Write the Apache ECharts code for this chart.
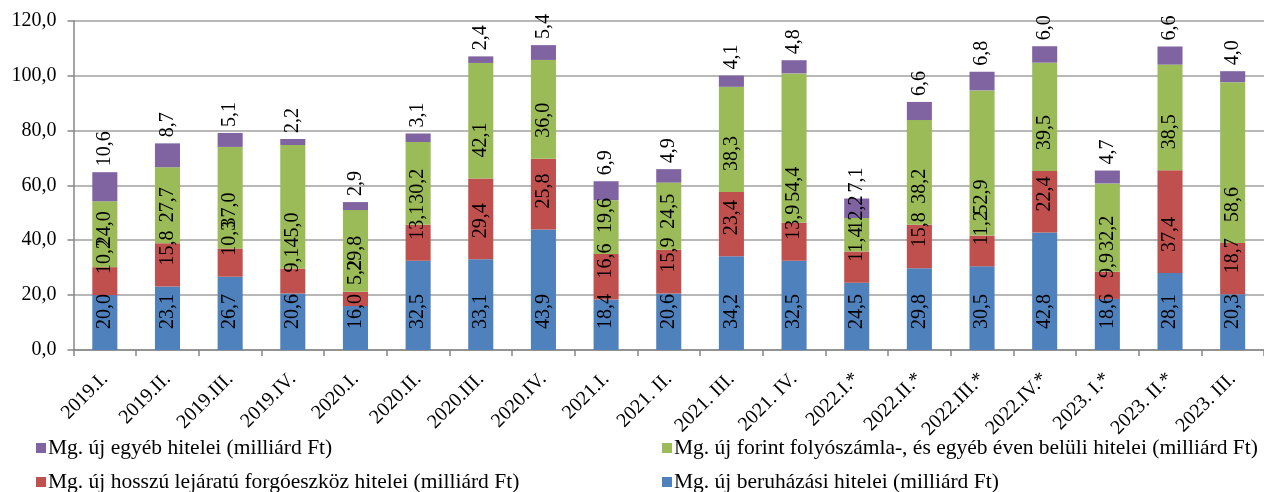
<!DOCTYPE html>
<html>
<head>
<meta charset="utf-8">
<script src="https://cdn.jsdelivr.net/npm/echarts@6/dist/echarts.min.js"></script>
<style>
html,body{margin:0;padding:0;background:#fff;}
#chart{width:1264px;height:492px;}
</style>
</head>
<body>
<div id="chart"></div>
<script>
const categories = ["2019.I.", "2019.II.", "2019.III.", "2019.IV.", "2020.I.", "2020.II.", "2020.III.", "2020.IV.", "2021.I.", "2021. II.", "2021. III.", "2021. IV.", "2022.I.*", "2022.II.*", "2022.III.*", "2022.IV.*", "2023. I.*", "2023. II.*", "2023. III."];
const beruhazasi = [20.0, 23.1, 26.7, 20.6, 16.0, 32.5, 33.1, 43.9, 18.4, 20.6, 34.2, 32.5, 24.5, 29.8, 30.5, 42.8, 18.6, 28.1, 20.3];
const hosszu = [10.2, 15.8, 10.3, 9.1, 5.2, 13.1, 29.4, 25.8, 16.6, 15.9, 23.4, 13.9, 11.4, 15.8, 11.2, 22.4, 9.9, 37.4, 18.7];
const forint = [24.0, 27.7, 37.0, 45.0, 29.8, 30.2, 42.1, 36.0, 19.6, 24.5, 38.3, 54.4, 12.2, 38.2, 52.9, 39.5, 32.2, 38.5, 58.6];
const egyeb = [10.6, 8.7, 5.1, 2.2, 2.9, 3.1, 2.4, 5.4, 6.9, 4.9, 4.1, 4.8, 7.1, 6.6, 6.8, 6.0, 4.7, 6.6, 4.0];

const names = {
  egyeb: "Mg. új egyéb hitelei (milliárd Ft)",
  forint: "Mg. új forint folyószámla-, és egyéb éven belüli hitelei (milliárd Ft)",
  hosszu: "Mg. új hosszú lejáratú forgóeszköz hitelei (milliárd Ft)",
  beruhazasi: "Mg. új beruházási hitelei (milliárd Ft)"
};
const FONT = '"Liberation Serif", "Times New Roman", serif';
const fmt = v => Number(v).toFixed(1).replace('.', ',');

function baseLabel() {
  return {
    show: true, position: 'insideBottom', distance: 21, rotate: 90,
    align: 'left', verticalAlign: 'middle',
    color: '#000', fontFamily: FONT, fontSize: 20,
    formatter: p => fmt(p.value)
  };
}
function ser(name, data, color, label) {
  return {
    name: name, type: 'bar', stack: 'total', data: data, barWidth: '40%',
    itemStyle: { color: color }, label: label
  };
}

const chart = echarts.init(document.getElementById('chart'), null, {renderer: 'canvas'});
const legendBase = {
  icon: 'rect', itemWidth: 10, itemHeight: 10, itemGap: 0, padding: 0,
  textStyle: { fontFamily: FONT, fontSize: 21.5, color: '#000', padding: [0,0,0,-3] },
  selectedMode: false
};
chart.setOption({
  animation: false,
  backgroundColor: '#fff',
  grid: { left: 73.5, top: 20.7, width: 1200, height: 329.3, containLabel: false },
  legend: [
    Object.assign({}, legendBase, { data: [names.egyeb], left: 36, top: 437 }),
    Object.assign({}, legendBase, { data: [names.forint], left: 662, top: 437 }),
    Object.assign({}, legendBase, { data: [names.hosszu], left: 36, top: 471 }),
    Object.assign({}, legendBase, { data: [names.beruhazasi], left: 662, top: 471 })
  ],
  xAxis: {
    type: 'category', data: categories,
    axisLine: { lineStyle: { color: '#868686', width: 1.5 } },
    axisTick: { show: true, alignWithLabel: false, length: 6, lineStyle: { color: '#868686', width: 1.5 } },
    axisLabel: { rotate: 45, margin: 26, interval: 0, color: '#000', fontFamily: FONT, fontSize: 20 }
  },
  yAxis: {
    type: 'value', min: 0, max: 120, interval: 20,
    axisLine: { show: true, lineStyle: { color: '#868686', width: 1.5 } },
    axisTick: { show: true, length: 6, lineStyle: { color: '#868686', width: 1.5 } },
    splitLine: { lineStyle: { color: '#a0a0a0', width: 1.5 } },
    axisLabel: { margin: 17, color: '#000', fontFamily: FONT, fontSize: 20, formatter: v => fmt(v) }
  },
  series: [
    ser(names.beruhazasi, beruhazasi, '#4F81BD', baseLabel()),
    ser(names.hosszu, hosszu, '#C0504D', baseLabel()),
    ser(names.forint, forint, '#9BBB59', baseLabel()),
    ser(names.egyeb, egyeb, '#8064A2', {
      show: true, position: 'top', distance: 6, rotate: 90,
      align: 'left', verticalAlign: 'middle',
      color: '#000', fontFamily: FONT, fontSize: 20,
      formatter: p => fmt(p.value)
    })
  ]
});
</script>
</body>
</html>
